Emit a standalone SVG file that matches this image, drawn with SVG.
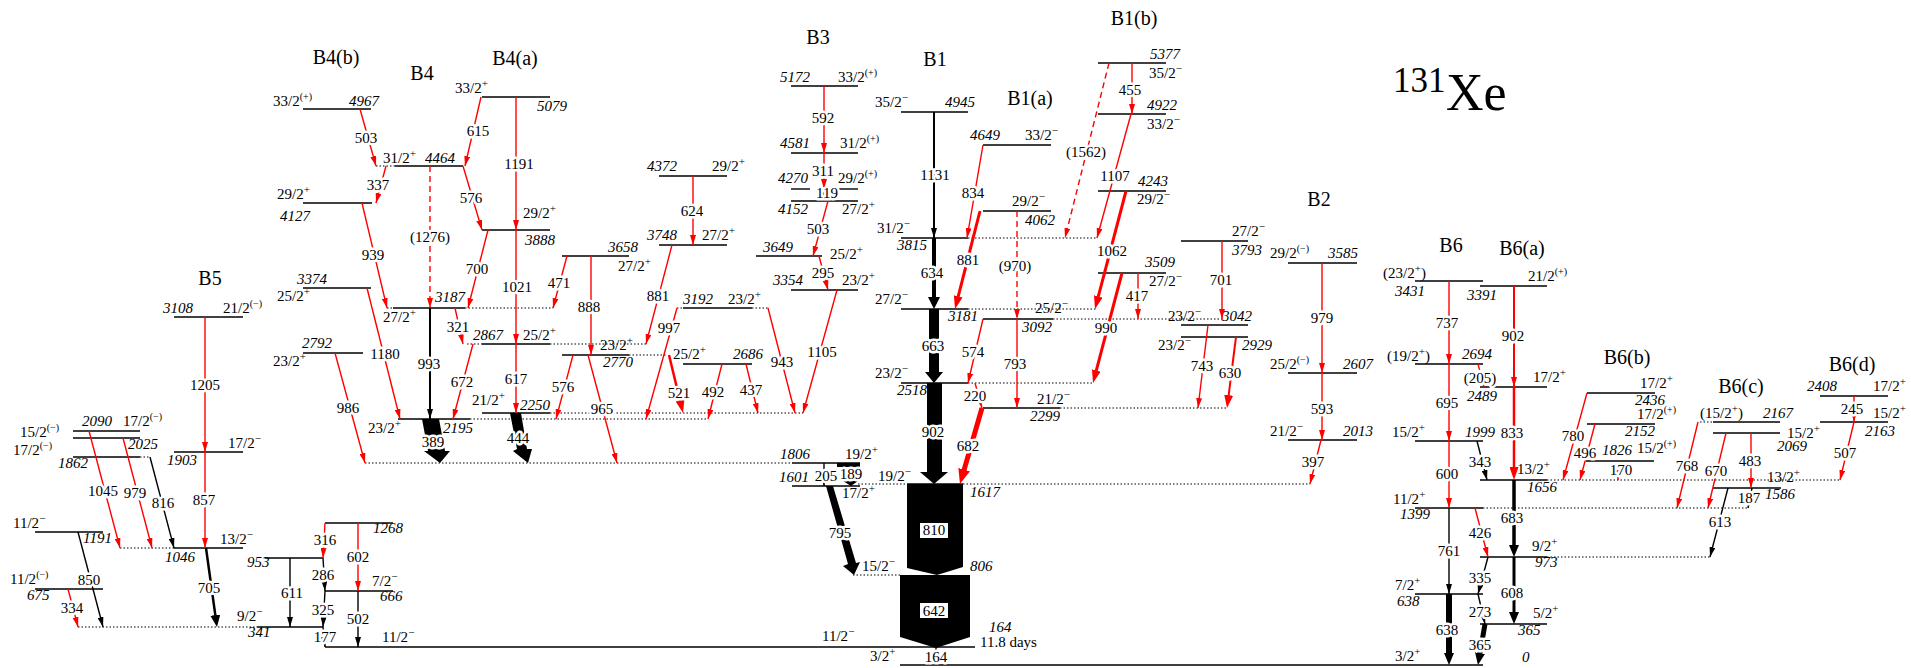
<svg xmlns="http://www.w3.org/2000/svg" width="1911" height="668" viewBox="0 0 1911 668">
<defs>
<style>
text{font-family:"Liberation Serif","Times New Roman",serif;font-size:15px;fill:#000}
.e{font-style:italic}
.g{text-anchor:middle;paint-order:stroke;stroke:#fff;stroke-width:5px;stroke-linejoin:round}
.t{font-size:20px;text-anchor:middle}
.s{font-size:11px}
.p{font-size:10px}
.lv{stroke:#000;stroke-width:1.4;fill:none}
.dt{stroke:#000;stroke-width:1;stroke-dasharray:1.5 2;fill:none}
.r{stroke:#f00;stroke-width:1.4;fill:none;marker-end:url(#ar)}
.k{stroke:#000;stroke-width:1.4;fill:none;marker-end:url(#ab)}
.d{stroke-dasharray:6 4}
.rt{stroke:#f00;fill:none;marker-end:url(#arT)}
.rb{stroke:#f00;fill:none;marker-end:url(#arB)}
.kt{stroke:#000;fill:none;marker-end:url(#abT)}
.box{fill:#fff}
</style>
<marker id="ar" markerUnits="userSpaceOnUse" viewBox="0 0 10 6" markerWidth="10" markerHeight="6" refX="10" refY="3" orient="auto"><path d="M0,0L10,3L0,6z" fill="#f00"/></marker>
<marker id="ab" markerUnits="userSpaceOnUse" viewBox="0 0 10 6" markerWidth="10" markerHeight="6" refX="10" refY="3" orient="auto"><path d="M0,0L10,3L0,6z" fill="#000"/></marker>
<marker id="arT" markerUnits="userSpaceOnUse" viewBox="0 0 13 9" markerWidth="13" markerHeight="9" refX="0.5" refY="4.5" orient="auto"><path d="M0,0L13,4.5L0,9z" fill="#f00"/></marker>
<marker id="arB" markerUnits="userSpaceOnUse" viewBox="0 0 15 12" markerWidth="15" markerHeight="12" refX="0.5" refY="6" orient="auto"><path d="M0,0L15,6L0,12z" fill="#f00"/></marker>
<marker id="abT" markerUnits="userSpaceOnUse" viewBox="0 0 12 10" markerWidth="12" markerHeight="10" refX="0.5" refY="5" orient="auto"><path d="M0,0L12,5L0,10z" fill="#000"/></marker>
</defs>
<rect width="1911" height="668" fill="#fff"/>

<g id="titles">
<text class="t" x="336" y="64">B4(b)</text>
<text class="t" x="422" y="80">B4</text>
<text class="t" x="515" y="65">B4(a)</text>
<text class="t" x="818" y="44">B3</text>
<text class="t" x="935" y="66">B1</text>
<text class="t" x="1030" y="105">B1(a)</text>
<text class="t" x="1134" y="25">B1(b)</text>
<text class="t" x="1319" y="206">B2</text>
<text class="t" x="210" y="285">B5</text>
<text class="t" x="1451" y="252">B6</text>
<text class="t" x="1522" y="255">B6(a)</text>
<text class="t" x="1627" y="364">B6(b)</text>
<text class="t" x="1741" y="393">B6(c)</text>
<text class="t" x="1852" y="371">B6(d)</text>
<text x="1393" y="92" style="font-size:35px">131</text><text x="1446" y="110" style="font-size:52px">Xe</text>
</g>

<g id="levels">
<g id="lv-4967"><line class="lv" x1="303" y1="109" x2="371" y2="109"/><text x="273" y="106">33/2<tspan class="p" dy="-6">(+)</tspan></text><text class="e" x="349" y="106">4967</text></g>
<g id="lv-4127"><line class="lv" x1="303" y1="203" x2="372" y2="203"/><text x="277" y="199">29/2<tspan class="s" dy="-6">+</tspan></text><text class="e" x="280" y="221">4127</text></g>
<g id="lv-3374"><line class="lv" x1="303" y1="288" x2="371" y2="288"/><text class="e" x="297" y="284">3374</text><text x="277" y="301">25/2<tspan class="s" dy="-6">+</tspan></text></g>
<g id="lv-2792"><line class="lv" x1="303" y1="353" x2="363" y2="353"/><text class="e" x="302" y="348">2792</text><text x="273" y="366">23/2<tspan class="s" dy="-6">+</tspan></text></g>
<g id="lv-4464"><line class="dt" x1="376" y1="166" x2="395" y2="166"/><line class="lv" x1="395" y1="166" x2="463" y2="166"/><text x="383" y="163">31/2<tspan class="s" dy="-6">+</tspan></text><text class="e" x="425" y="163">4464</text></g>
<g id="lv-3187"><line class="dt" x1="387" y1="308" x2="393" y2="308"/><line class="lv" x1="393" y1="308" x2="465" y2="308"/><line class="dt" x1="465" y1="308" x2="553" y2="308"/><text class="e" x="435" y="302">3187</text><text x="383" y="322">27/2<tspan class="s" dy="-6">+</tspan></text></g>
<g id="lv-2195"><line class="lv" x1="398" y1="419" x2="470" y2="419"/><line class="dt" x1="470" y1="419" x2="708" y2="419"/><text x="368" y="433">23/2<tspan class="s" dy="-6">+</tspan></text><text class="e" x="443" y="433">2195</text></g>
<g id="lv-5079"><line class="lv" x1="482" y1="97" x2="550" y2="97"/><text x="455" y="93">33/2<tspan class="s" dy="-6">+</tspan></text><text class="e" x="537" y="111">5079</text></g>
<g id="lv-3888"><line class="lv" x1="482" y1="230" x2="550" y2="230"/><text x="523" y="218">29/2<tspan class="s" dy="-6">+</tspan></text><text class="e" x="525" y="245">3888</text></g>
<g id="lv-2867"><line class="dt" x1="467" y1="344" x2="482" y2="344"/><line class="lv" x1="482" y1="344" x2="550" y2="344"/><line class="dt" x1="550" y1="344" x2="646" y2="344"/><text class="e" x="473" y="340">2867</text><text x="523" y="340">25/2<tspan class="s" dy="-6">+</tspan></text></g>
<g id="lv-2250"><line class="lv" x1="482" y1="413" x2="550" y2="413"/><line class="dt" x1="550" y1="413" x2="803" y2="413"/><text x="472" y="405">21/2<tspan class="s" dy="-6">+</tspan></text><text class="e" x="520" y="410">2250</text></g>
<g id="lv-3658"><line class="lv" x1="562" y1="256" x2="629" y2="256"/><text class="e" x="608" y="252">3658</text><text x="618" y="271">27/2<tspan class="s" dy="-6">+</tspan></text></g>
<g id="lv-2770"><line class="lv" x1="562" y1="355" x2="629" y2="355"/><line class="dt" x1="629" y1="355" x2="667" y2="355"/><text x="600" y="350">23/2<tspan class="s" dy="-6">+</tspan></text><text class="e" x="603" y="367">2770</text></g>
<g id="lv-4372"><line class="lv" x1="659" y1="176" x2="727" y2="176"/><text class="e" x="647" y="171">4372</text><text x="712" y="171">29/2<tspan class="s" dy="-6">+</tspan></text></g>
<g id="lv-3748"><line class="lv" x1="659" y1="245" x2="727" y2="245"/><text class="e" x="647" y="240">3748</text><text x="702" y="240">27/2<tspan class="s" dy="-6">+</tspan></text></g>
<g id="lv-3192"><line class="dt" x1="677" y1="308" x2="683" y2="308"/><line class="lv" x1="683" y1="308" x2="752" y2="308"/><line class="dt" x1="752" y1="308" x2="768" y2="308"/><text class="e" x="683" y="304">3192</text><text x="728" y="304">23/2<tspan class="s" dy="-6">+</tspan></text></g>
<g id="lv-2686"><line class="lv" x1="683" y1="364" x2="752" y2="364"/><text x="673" y="359">25/2<tspan class="s" dy="-6">+</tspan></text><text class="e" x="733" y="359">2686</text></g>
<g id="lv-5172"><line class="lv" x1="791" y1="86" x2="858" y2="86"/><text class="e" x="780" y="82">5172</text><text x="838" y="82">33/2<tspan class="p" dy="-6">(+)</tspan></text></g>
<g id="lv-4581"><line class="lv" x1="791" y1="153" x2="858" y2="153"/><text class="e" x="780" y="148">4581</text><text x="840" y="148">31/2<tspan class="p" dy="-6">(+)</tspan></text></g>
<g id="lv-4270"><line class="lv" x1="791" y1="189" x2="810" y2="189"/><line class="lv" x1="838" y1="189" x2="858" y2="189"/><text class="e" x="778" y="183">4270</text><text x="838" y="183">29/2<tspan class="p" dy="-6">(+)</tspan></text></g>
<g id="lv-4152"><line class="lv" x1="791" y1="201" x2="858" y2="201"/><text class="e" x="778" y="214">4152</text><text x="842" y="214">27/2<tspan class="s" dy="-6">+</tspan></text></g>
<g id="lv-3649"><line class="lv" x1="756" y1="256" x2="822" y2="256"/><text class="e" x="763" y="252">3649</text><text x="830" y="259">25/2<tspan class="s" dy="-6">+</tspan></text></g>
<g id="lv-3354"><line class="lv" x1="791" y1="290" x2="858" y2="290"/><text class="e" x="773" y="285">3354</text><text x="842" y="285">23/2<tspan class="s" dy="-6">+</tspan></text></g>
<g id="lv-1806"><line class="dt" x1="365" y1="463" x2="792" y2="463"/><line class="lv" x1="792" y1="463" x2="860" y2="463"/><text class="e" x="780" y="459">1806</text><text x="845" y="459">19/2<tspan class="s" dy="-6">+</tspan></text></g>
<g id="lv-1601"><line class="lv" x1="792" y1="486" x2="860" y2="486"/><text class="e" x="779" y="482">1601</text><text x="842" y="498">17/2<tspan class="s" dy="-6">+</tspan></text></g>
<g id="lv-4945"><line class="lv" x1="901" y1="112" x2="968" y2="112"/><text x="875" y="107">35/2<tspan class="s" dy="-6">−</tspan></text><text class="e" x="945" y="107">4945</text></g>
<g id="lv-3815"><line class="lv" x1="901" y1="238" x2="968" y2="238"/><line class="dt" x1="968" y1="238" x2="1097" y2="238"/><text x="877" y="233">31/2<tspan class="s" dy="-6">−</tspan></text><text class="e" x="897" y="250">3815</text></g>
<g id="lv-3181"><line class="lv" x1="901" y1="309" x2="968" y2="309"/><line class="dt" x1="968" y1="309" x2="1097" y2="309"/><text x="875" y="304">27/2<tspan class="s" dy="-6">−</tspan></text><text class="e" x="948" y="321">3181</text></g>
<g id="lv-2518"><line class="lv" x1="901" y1="383" x2="968" y2="383"/><line class="dt" x1="968" y1="383" x2="1092" y2="383"/><text x="875" y="378">23/2<tspan class="s" dy="-6">−</tspan></text><text class="e" x="897" y="395">2518</text></g>
<g id="lv-1617"><line class="dt" x1="858" y1="484" x2="907" y2="484"/><line class="lv" x1="907" y1="484" x2="963" y2="484"/><line class="dt" x1="963" y1="484" x2="1310" y2="484"/><text x="878" y="481">19/2<tspan class="s" dy="-6">−</tspan></text><text class="e" x="970" y="497">1617</text></g>
<g id="lv-806"><line class="dt" x1="853" y1="575" x2="900" y2="575"/><text x="862" y="571">15/2<tspan class="s" dy="-6">−</tspan></text><text class="e" x="970" y="571">806</text></g>
<g id="lv-164"><line class="lv" x1="325" y1="647" x2="975" y2="647"/><text x="382" y="642">11/2<tspan class="s" dy="-6">−</tspan></text><text x="822" y="641">11/2<tspan class="s" dy="-6">−</tspan></text><text class="e" x="989" y="632">164</text><text x="980" y="647">11.8 days</text></g>
<g id="lv-0"><line class="lv" x1="900" y1="665" x2="1483" y2="665"/><text x="870" y="661">3/2<tspan class="s" dy="-6">+</tspan></text><text x="1395" y="661">3/2<tspan class="s" dy="-6">+</tspan></text><text class="e" x="1522" y="662">0</text></g>
<g id="lv-4649"><line class="lv" x1="983" y1="145" x2="1051" y2="145"/><text class="e" x="970" y="140">4649</text><text x="1025" y="140">33/2<tspan class="s" dy="-6">−</tspan></text></g>
<g id="lv-4062"><line class="lv" x1="983" y1="211" x2="1051" y2="211"/><text x="1012" y="206">29/2<tspan class="s" dy="-6">−</tspan></text><text class="e" x="1025" y="225">4062</text></g>
<g id="lv-3092"><line class="lv" x1="983" y1="319" x2="1053" y2="319"/><line class="dt" x1="1053" y1="319" x2="1222" y2="319"/><text x="1035" y="313">25/2<tspan class="s" dy="-6">−</tspan></text><text class="e" x="1022" y="332">3092</text></g>
<g id="lv-2299"><line class="lv" x1="983" y1="408" x2="1060" y2="408"/><line class="dt" x1="1060" y1="408" x2="1227" y2="408"/><text x="1037" y="404">21/2<tspan class="s" dy="-6">−</tspan></text><text class="e" x="1030" y="421">2299</text></g>
<g id="lv-5377"><line class="lv" x1="1098" y1="63" x2="1166" y2="63"/><text class="e" x="1150" y="59">5377</text><text x="1149" y="78">35/2<tspan class="s" dy="-6">−</tspan></text></g>
<g id="lv-4922"><line class="lv" x1="1098" y1="114" x2="1166" y2="114"/><text class="e" x="1147" y="110">4922</text><text x="1147" y="129">33/2<tspan class="s" dy="-6">−</tspan></text></g>
<g id="lv-4243"><line class="lv" x1="1098" y1="191" x2="1166" y2="191"/><text class="e" x="1138" y="186">4243</text><text x="1137" y="204">29/2<tspan class="s" dy="-6">−</tspan></text></g>
<g id="lv-3509"><line class="lv" x1="1098" y1="273" x2="1166" y2="273"/><text class="e" x="1145" y="267">3509</text><text x="1149" y="286">27/2<tspan class="s" dy="-6">−</tspan></text></g>
<g id="lv-3793"><line class="lv" x1="1181" y1="241" x2="1248" y2="241"/><text x="1232" y="236">27/2<tspan class="s" dy="-6">−</tspan></text><text class="e" x="1232" y="255">3793</text></g>
<g id="lv-3042"><line class="lv" x1="1181" y1="325" x2="1248" y2="325"/><text x="1168" y="321">23/2<tspan class="s" dy="-6">−</tspan></text><text class="e" x="1222" y="321">3042</text></g>
<g id="lv-2929"><line class="lv" x1="1181" y1="337" x2="1248" y2="337"/><text x="1158" y="350">23/2<tspan class="s" dy="-6">−</tspan></text><text class="e" x="1242" y="350">2929</text></g>
<g id="lv-3585"><line class="lv" x1="1288" y1="263" x2="1357" y2="263"/><text x="1270" y="258">29/2<tspan class="p" dy="-6">(−)</tspan></text><text class="e" x="1328" y="258">3585</text></g>
<g id="lv-2607"><line class="lv" x1="1288" y1="373" x2="1357" y2="373"/><text x="1270" y="369">25/2<tspan class="p" dy="-6">(−)</tspan></text><text class="e" x="1343" y="369">2607</text></g>
<g id="lv-2013"><line class="lv" x1="1288" y1="440" x2="1357" y2="440"/><text x="1270" y="436">21/2<tspan class="s" dy="-6">−</tspan></text><text class="e" x="1343" y="436">2013</text></g>
<g id="lv-3108"><line class="lv" x1="174" y1="317" x2="243" y2="317"/><text class="e" x="163" y="313">3108</text><text x="223" y="313">21/2<tspan class="p" dy="-6">(−)</tspan></text></g>
<g id="lv-1903"><line class="lv" x1="174" y1="452" x2="243" y2="452"/><text x="228" y="448">17/2<tspan class="s" dy="-6">−</tspan></text><text class="e" x="167" y="465">1903</text></g>
<g id="lv-1046"><line class="dt" x1="120" y1="548" x2="174" y2="548"/><line class="lv" x1="174" y1="548" x2="243" y2="548"/><text x="220" y="544">13/2<tspan class="s" dy="-6">−</tspan></text><text class="e" x="165" y="562">1046</text></g>
<g id="lv-341"><line class="dt" x1="78" y1="627" x2="257" y2="627"/><line class="lv" x1="257" y1="627" x2="323" y2="627"/><text x="237" y="621">9/2<tspan class="s" dy="-6">−</tspan></text><text class="e" x="248" y="637">341</text></g>
<g id="lv-2090"><line class="lv" x1="73" y1="431" x2="140" y2="431"/><text class="e" x="82" y="426">2090</text><text x="123" y="426">17/2<tspan class="p" dy="-6">(−)</tspan></text></g>
<g id="lv-2025"><line class="lv" x1="73" y1="438" x2="140" y2="438"/><text x="20" y="437">15/2<tspan class="p" dy="-6">(−)</tspan></text><text class="e" x="128" y="449">2025</text></g>
<g id="lv-1862"><line class="lv" x1="73" y1="457" x2="140" y2="457"/><line class="dt" x1="140" y1="457" x2="150" y2="457"/><text x="13" y="455">17/2<tspan class="p" dy="-6">(−)</tspan></text><text class="e" x="58" y="468">1862</text></g>
<g id="lv-1191"><line class="lv" x1="35" y1="532" x2="103" y2="532"/><text x="13" y="528">11/2<tspan class="s" dy="-6">−</tspan></text><text class="e" x="83" y="543">1191</text></g>
<g id="lv-675"><line class="lv" x1="35" y1="589" x2="103" y2="589"/><text x="10" y="584">11/2<tspan class="p" dy="-6">(−)</tspan></text><text class="e" x="27" y="600">675</text></g>
<g id="lv-953"><line class="lv" x1="265" y1="558" x2="323" y2="558"/><text class="e" x="247" y="567">953</text></g>
<g id="lv-1268"><line class="lv" x1="325" y1="523" x2="393" y2="523"/><text class="e" x="373" y="533">1268</text></g>
<g id="lv-666"><line class="lv" x1="325" y1="591" x2="393" y2="591"/><text x="372" y="586">7/2<tspan class="s" dy="-6">−</tspan></text><text class="e" x="380" y="601">666</text></g>
<g id="lv-3431"><line class="lv" x1="1415" y1="281" x2="1483" y2="281"/><text x="1383" y="278">(23/2<tspan class="s" dy="-6">+</tspan><tspan dy="6">)</tspan></text><text class="e" x="1395" y="296">3431</text></g>
<g id="lv-2694"><line class="lv" x1="1415" y1="364" x2="1483" y2="364"/><text x="1387" y="361">(19/2<tspan class="s" dy="-6">+</tspan><tspan dy="6">)</tspan></text><text class="e" x="1462" y="359">2694</text></g>
<g id="lv-1999"><line class="lv" x1="1415" y1="441" x2="1483" y2="441"/><text x="1392" y="437">15/2<tspan class="s" dy="-6">+</tspan></text><text class="e" x="1465" y="437">1999</text></g>
<g id="lv-1399"><line class="lv" x1="1415" y1="508" x2="1483" y2="508"/><line class="dt" x1="1483" y1="508" x2="1747" y2="508"/><text x="1393" y="504">11/2<tspan class="s" dy="-6">+</tspan></text><text class="e" x="1400" y="519">1399</text></g>
<g id="lv-638"><line class="lv" x1="1415" y1="594" x2="1483" y2="594"/><text x="1395" y="590">7/2<tspan class="s" dy="-6">+</tspan></text><text class="e" x="1397" y="606">638</text></g>
<g id="lv-3391"><line class="lv" x1="1480" y1="286" x2="1547" y2="286"/><text class="e" x="1467" y="300">3391</text><text x="1528" y="281">21/2<tspan class="p" dy="-6">(+)</tspan></text></g>
<g id="lv-2489"><line class="lv" x1="1480" y1="387" x2="1547" y2="387"/><text x="1533" y="382">17/2<tspan class="s" dy="-6">+</tspan></text><text class="e" x="1467" y="401">2489</text></g>
<g id="lv-1656"><line class="lv" x1="1480" y1="480" x2="1547" y2="480"/><line class="dt" x1="1547" y1="480" x2="1840" y2="480"/><text x="1517" y="474">13/2<tspan class="s" dy="-6">+</tspan></text><text class="e" x="1527" y="492">1656</text></g>
<g id="lv-973"><line class="lv" x1="1480" y1="557" x2="1547" y2="557"/><line class="dt" x1="1547" y1="557" x2="1710" y2="557"/><text x="1532" y="551">9/2<tspan class="s" dy="-6">+</tspan></text><text class="e" x="1535" y="567">973</text></g>
<g id="lv-365"><line class="lv" x1="1480" y1="624" x2="1547" y2="624"/><text x="1533" y="618">5/2<tspan class="s" dy="-6">+</tspan></text><text class="e" x="1518" y="635">365</text></g>
<g id="lv-2436"><line class="lv" x1="1587" y1="393" x2="1655" y2="393"/><text x="1640" y="388">17/2<tspan class="s" dy="-6">+</tspan></text><text class="e" x="1635" y="405">2436</text></g>
<g id="lv-2152"><line class="lv" x1="1587" y1="424" x2="1655" y2="424"/><text x="1637" y="419">17/2<tspan class="p" dy="-6">(+)</tspan></text><text class="e" x="1625" y="436">2152</text></g>
<g id="lv-1826"><line class="lv" x1="1586" y1="461" x2="1654" y2="461"/><text class="e" x="1602" y="455">1826</text><text x="1637" y="453">15/2<tspan class="p" dy="-6">(+)</tspan></text></g>
<g id="lv-2167"><line class="dt" x1="1700" y1="422" x2="1713" y2="422"/><line class="lv" x1="1713" y1="422" x2="1780" y2="422"/><text x="1700" y="418">(15/2<tspan class="s" dy="-6">+</tspan><tspan dy="6">)</tspan></text><text class="e" x="1763" y="418">2167</text></g>
<g id="lv-2069"><line class="lv" x1="1713" y1="433" x2="1780" y2="433"/><text x="1787" y="438">15/2<tspan class="s" dy="-6">+</tspan></text><text class="e" x="1777" y="451">2069</text></g>
<g id="lv-1586"><line class="lv" x1="1713" y1="488" x2="1781" y2="488"/><text x="1767" y="482">13/2<tspan class="s" dy="-6">+</tspan></text><text class="e" x="1765" y="499">1586</text></g>
<g id="lv-2408"><line class="lv" x1="1820" y1="396" x2="1888" y2="396"/><text class="e" x="1807" y="391">2408</text><text x="1873" y="391">17/2<tspan class="s" dy="-6">+</tspan></text></g>
<g id="lv-2163"><line class="lv" x1="1820" y1="422" x2="1888" y2="422"/><text x="1873" y="418">15/2<tspan class="s" dy="-6">+</tspan></text><text class="e" x="1865" y="436">2163</text></g>
</g>

<g id="connectors">
<line class="r" x1="360" y1="109" x2="376" y2="166"/><text class="g" x="366" y="143">503</text>
<line class="r" x1="386" y1="166" x2="376" y2="203"/><text class="g" x="378" y="190">337</text>
<line class="r" x1="362" y1="203" x2="387" y2="308"/><text class="g" x="373" y="260">939</text>
<line class="r d" x1="430" y1="166" x2="430" y2="308"/><text class="g" x="430" y="242">(1276)</text>
<line class="r" x1="481" y1="97" x2="465" y2="166"/><text class="g" x="478" y="136">615</text>
<line class="r" x1="463" y1="166" x2="482" y2="230"/><text class="g" x="471" y="203">576</text>
<line class="r" x1="516" y1="97" x2="516" y2="230"/><text class="g" x="519" y="169">1191</text>
<line class="r" x1="488" y1="230" x2="468" y2="308"/><text class="g" x="477" y="274">700</text>
<line class="r" x1="516" y1="230" x2="516" y2="344"/><text class="g" x="517" y="292">1021</text>
<line class="r" x1="455" y1="308" x2="463" y2="344"/><text class="g" x="458" y="332">321</text>
<line class="r" x1="473" y1="344" x2="453" y2="419"/><text class="g" x="462" y="387">672</text>
<line class="r" x1="516" y1="344" x2="516" y2="413"/><text class="g" x="516" y="384">617</text>
<line class="r" x1="367" y1="288" x2="400" y2="419"/><text class="g" x="385" y="359">1180</text>
<line class="r" x1="335" y1="353" x2="365" y2="463"/><text class="g" x="348" y="413">986</text>
<line class="k" x1="430" y1="308" x2="430" y2="419" style="stroke-width:2"/><text class="g" x="429" y="369">993</text>
<polygon points="422,419 439,419 445,451 450,451 440,463 424,451 428,451"/><text class="g" x="433" y="447">389</text>
<polygon points="510,413 521,413 527,449 532,449 528,463 513,451 517,449"/><text class="g" x="518" y="443">444</text>
<line class="r" x1="567" y1="256" x2="553" y2="308"/><text class="g" x="559" y="288">471</text>
<line class="r" x1="591" y1="256" x2="591" y2="355"/><text class="g" x="589" y="312">888</text>
<line class="r" x1="573" y1="355" x2="556" y2="419"/><text class="g" x="563" y="392">576</text>
<line class="r" x1="588" y1="355" x2="617" y2="463"/><text class="g" x="602" y="414">965</text>
<line class="r" x1="693" y1="176" x2="693" y2="245"/><text class="g" x="692" y="216">624</text>
<line class="r" x1="672" y1="245" x2="646" y2="344"/><text class="g" x="658" y="301">881</text>
<line class="r" x1="677" y1="308" x2="646" y2="419"/><text class="g" x="669" y="333">997</text>
<line class="r" x1="768" y1="308" x2="795" y2="413"/><text class="g" x="782" y="367">943</text>
<line class="rt" x1="669" y1="355" x2="680.1" y2="400.9" style="stroke-width:2.5"/><text class="g" x="679" y="398">521</text>
<line class="r" x1="722" y1="364" x2="708" y2="419"/><text class="g" x="713" y="397">492</text>
<line class="r" x1="746" y1="364" x2="758" y2="413"/><text class="g" x="751" y="395">437</text>
<line class="r" x1="824" y1="86" x2="824" y2="153"/><text class="g" x="823" y="123">592</text>
<line class="r" x1="824" y1="153" x2="824" y2="189"/><text class="g" x="823" y="176">311</text>
<line class="r" x1="824" y1="189" x2="824" y2="201"/><text class="g" x="827" y="198">119</text>
<line class="r" x1="828" y1="201" x2="813" y2="256"/><text class="g" x="818" y="234">503</text>
<line class="r" x1="819" y1="256" x2="828" y2="290"/><text class="g" x="823" y="278">295</text>
<line class="r" x1="837" y1="290" x2="803" y2="413"/><text class="g" x="822" y="357">1105</text>
<line class="k" x1="934" y1="112" x2="934" y2="238" style="stroke-width:2"/><text class="g" x="935" y="180">1131</text>
<polygon points="932,238 936,238 936,297 940,297 934,309 928,297 932,297"/><text class="g" x="932" y="278">634</text>
<polygon points="929,309 939,309 939,372 943,372 934,383 925,372 929,372"/><text class="g" x="933" y="351">663</text>
<polygon points="927,383 942,383 942,472 948,472 934,484 920,472 927,472"/><text class="g" x="933" y="437">902</text>
<polygon points="907,484 963,484 963,567 937,575 907,568"/><rect class="box" x="920" y="523" width="28" height="15"/><text x="934" y="535" style="text-anchor:middle">810</text>
<polygon points="900,575 970,575 970,637 936,648 900,637"/><rect class="box" x="920" y="603" width="28" height="15"/><text x="934" y="616" style="text-anchor:middle">642</text>
<line class="k" x1="936" y1="648" x2="936" y2="665"/><text class="g" x="936" y="662">164</text>
<polygon points="826,486 833,486 856,563 860,562 854,575 843,566 848,564"/><text class="g" x="840" y="538">795</text>
<polygon points="837,463 860,463 860,467 853,467 853,481 858,481 851,486 843,481 848,481 848,467 837,467"/><text class="g" x="851" y="479">189</text>
<line class="k" x1="824" y1="463" x2="824" y2="486"/><text class="g" x="826" y="481">205</text>
<line class="r" x1="983" y1="145" x2="967" y2="238"/><text class="g" x="973" y="198">834</text>
<line class="rt" x1="980" y1="211" x2="958.1" y2="296.9" style="stroke-width:3"/><text class="g" x="968" y="265">881</text>
<line class="r d" x1="1017" y1="211" x2="1017" y2="319"/><text class="g" x="1015" y="271">(970)</text>
<line class="r d" x1="1109" y1="63" x2="1065" y2="238"/><text class="g" x="1086" y="157">(1562)</text>
<line class="r" x1="1132" y1="63" x2="1132" y2="114"/><text class="g" x="1130" y="95">455</text>
<line class="r" x1="1131" y1="114" x2="1097" y2="238"/><text class="g" x="1115" y="181">1107</text>
<line class="rt" x1="1126" y1="191" x2="1098.2" y2="296.9" style="stroke-width:3"/><text class="g" x="1112" y="256">1062</text>
<line class="rt" x1="1122" y1="273" x2="1096.2" y2="370.9" style="stroke-width:3"/><text class="g" x="1106" y="333">990</text>
<line class="r" x1="1138" y1="273" x2="1138" y2="319"/><text class="g" x="1137" y="301">417</text>
<line class="r" x1="1222" y1="241" x2="1222" y2="319"/><text class="g" x="1221" y="285">701</text>
<line class="r" x1="1017" y1="319" x2="1017" y2="408"/><text class="g" x="1015" y="369">793</text>
<line class="r" x1="983" y1="319" x2="968" y2="383"/><text class="g" x="973" y="357">574</text>
<line class="r" x1="975" y1="383" x2="982" y2="408"/><text class="g" x="975" y="401">220</text>
<line class="rb" x1="982" y1="408" x2="964" y2="470.1" style="stroke-width:5"/><text class="g" x="968" y="451">682</text>
<line class="r" x1="1208" y1="325" x2="1198" y2="408"/><text class="g" x="1202" y="371">743</text>
<line class="rt" x1="1236" y1="337" x2="1228.6" y2="395.6" style="stroke-width:2"/><text class="g" x="1230" y="378">630</text>
<line class="r" x1="1322" y1="263" x2="1322" y2="373"/><text class="g" x="1322" y="323">979</text>
<line class="r" x1="1322" y1="373" x2="1322" y2="440"/><text class="g" x="1322" y="414">593</text>
<line class="r" x1="1321" y1="440" x2="1310" y2="484"/><text class="g" x="1313" y="467">397</text>
<line class="r" x1="205" y1="317" x2="205" y2="452"/><text class="g" x="205" y="390">1205</text>
<line class="r" x1="205" y1="452" x2="205" y2="548"/><text class="g" x="204" y="505">857</text>
<line class="r" x1="89" y1="431" x2="120" y2="548"/><text class="g" x="103" y="496">1045</text>
<line class="r" x1="123" y1="438" x2="152" y2="548"/><text class="g" x="135" y="498">979</text>
<line class="k" x1="150" y1="457" x2="174" y2="548"/><text class="g" x="163" y="508">816</text>
<line class="k" x1="78" y1="532" x2="103" y2="627"/><text class="g" x="89" y="585">850</text>
<line class="r" x1="68" y1="589" x2="78" y2="627"/><text class="g" x="72" y="613">334</text>
<line class="kt" x1="206" y1="548" x2="215.4" y2="615.6" style="stroke-width:2.5"/><text class="g" x="209" y="593">705</text>
<line class="k" x1="290" y1="558" x2="290" y2="627"/><text class="g" x="292" y="598">611</text>
<line class="r" x1="325" y1="523" x2="323" y2="558"/><text class="g" x="325" y="545">316</text>
<line class="r" x1="358" y1="523" x2="358" y2="591"/><text class="g" x="358" y="562">602</text>
<line class="k" x1="323" y1="558" x2="325" y2="591"/><text class="g" x="323" y="580">286</text>
<line class="k" x1="325" y1="591" x2="323" y2="627"/><text class="g" x="323" y="615">325</text>
<line class="k" x1="358" y1="591" x2="358" y2="647"/><text class="g" x="358" y="624">502</text>
<line class="k" x1="323" y1="627" x2="325" y2="647"/><text class="g" x="325" y="642">177</text>
<line class="r" x1="1449" y1="281" x2="1449" y2="364"/><text class="g" x="1447" y="328">737</text>
<line class="r" x1="1514" y1="286" x2="1514" y2="387" style="stroke-width:2"/><text class="g" x="1513" y="341">902</text>
<line class="r d" x1="1478" y1="364" x2="1484" y2="387"/><text class="g" x="1480" y="383">(205)</text>
<line class="r" x1="1449" y1="364" x2="1449" y2="441"/><text class="g" x="1447" y="408">695</text>
<line class="rt" x1="1514" y1="387" x2="1514" y2="467.5" style="stroke-width:2.5"/><text class="g" x="1512" y="438">833</text>
<line class="k" x1="1477" y1="441" x2="1487" y2="480"/><text class="g" x="1480" y="467">343</text>
<line class="r" x1="1449" y1="441" x2="1449" y2="508"/><text class="g" x="1447" y="479">600</text>
<line class="kt" x1="1514" y1="480" x2="1514" y2="545.5" style="stroke-width:3.5"/><text class="g" x="1512" y="523">683</text>
<line class="r" x1="1475" y1="508" x2="1488" y2="557"/><text class="g" x="1480" y="538">426</text>
<line class="k" x1="1449" y1="508" x2="1449" y2="594"/><text class="g" x="1449" y="556">761</text>
<line class="kt" x1="1514" y1="557" x2="1514" y2="612.5" style="stroke-width:3"/><text class="g" x="1512" y="598">608</text>
<line class="k" x1="1488" y1="557" x2="1478" y2="594"/><text class="g" x="1480" y="583">335</text>
<line class="k" x1="1478" y1="594" x2="1485" y2="624"/><text class="g" x="1480" y="617">273</text>
<line class="kt" x1="1449" y1="594" x2="1449" y2="653.5" style="stroke-width:6"/><text class="g" x="1447" y="635">638</text>
<line class="kt" x1="1485" y1="624" x2="1479.9" y2="653.7" style="stroke-width:5"/><text class="g" x="1480" y="650">365</text>
<line class="r" x1="1587" y1="393" x2="1563" y2="480"/><text class="g" x="1573" y="441">780</text>
<line class="r" x1="1595" y1="424" x2="1580" y2="480"/><text class="g" x="1585" y="458">496</text>
<line class="r" x1="1618" y1="470" x2="1618" y2="480"/><text class="g" x="1621" y="475">170</text>
<line class="r" x1="1698" y1="422" x2="1677" y2="508"/><text class="g" x="1687" y="471">768</text>
<line class="r" x1="1726" y1="433" x2="1708" y2="508"/><text class="g" x="1716" y="476">670</text>
<line class="r" x1="1751" y1="433" x2="1751" y2="488"/><text class="g" x="1750" y="466">483</text>
<line class="k" x1="1752" y1="488" x2="1748" y2="508"/><text class="g" x="1749" y="503">187</text>
<line class="k" x1="1728" y1="488" x2="1710" y2="557"/><text class="g" x="1720" y="527">613</text>
<line class="r" x1="1854" y1="396" x2="1854" y2="422"/><text class="g" x="1852" y="414">245</text>
<line class="r" x1="1854" y1="422" x2="1840" y2="480"/><text class="g" x="1845" y="458">507</text>
</g>
</svg>
